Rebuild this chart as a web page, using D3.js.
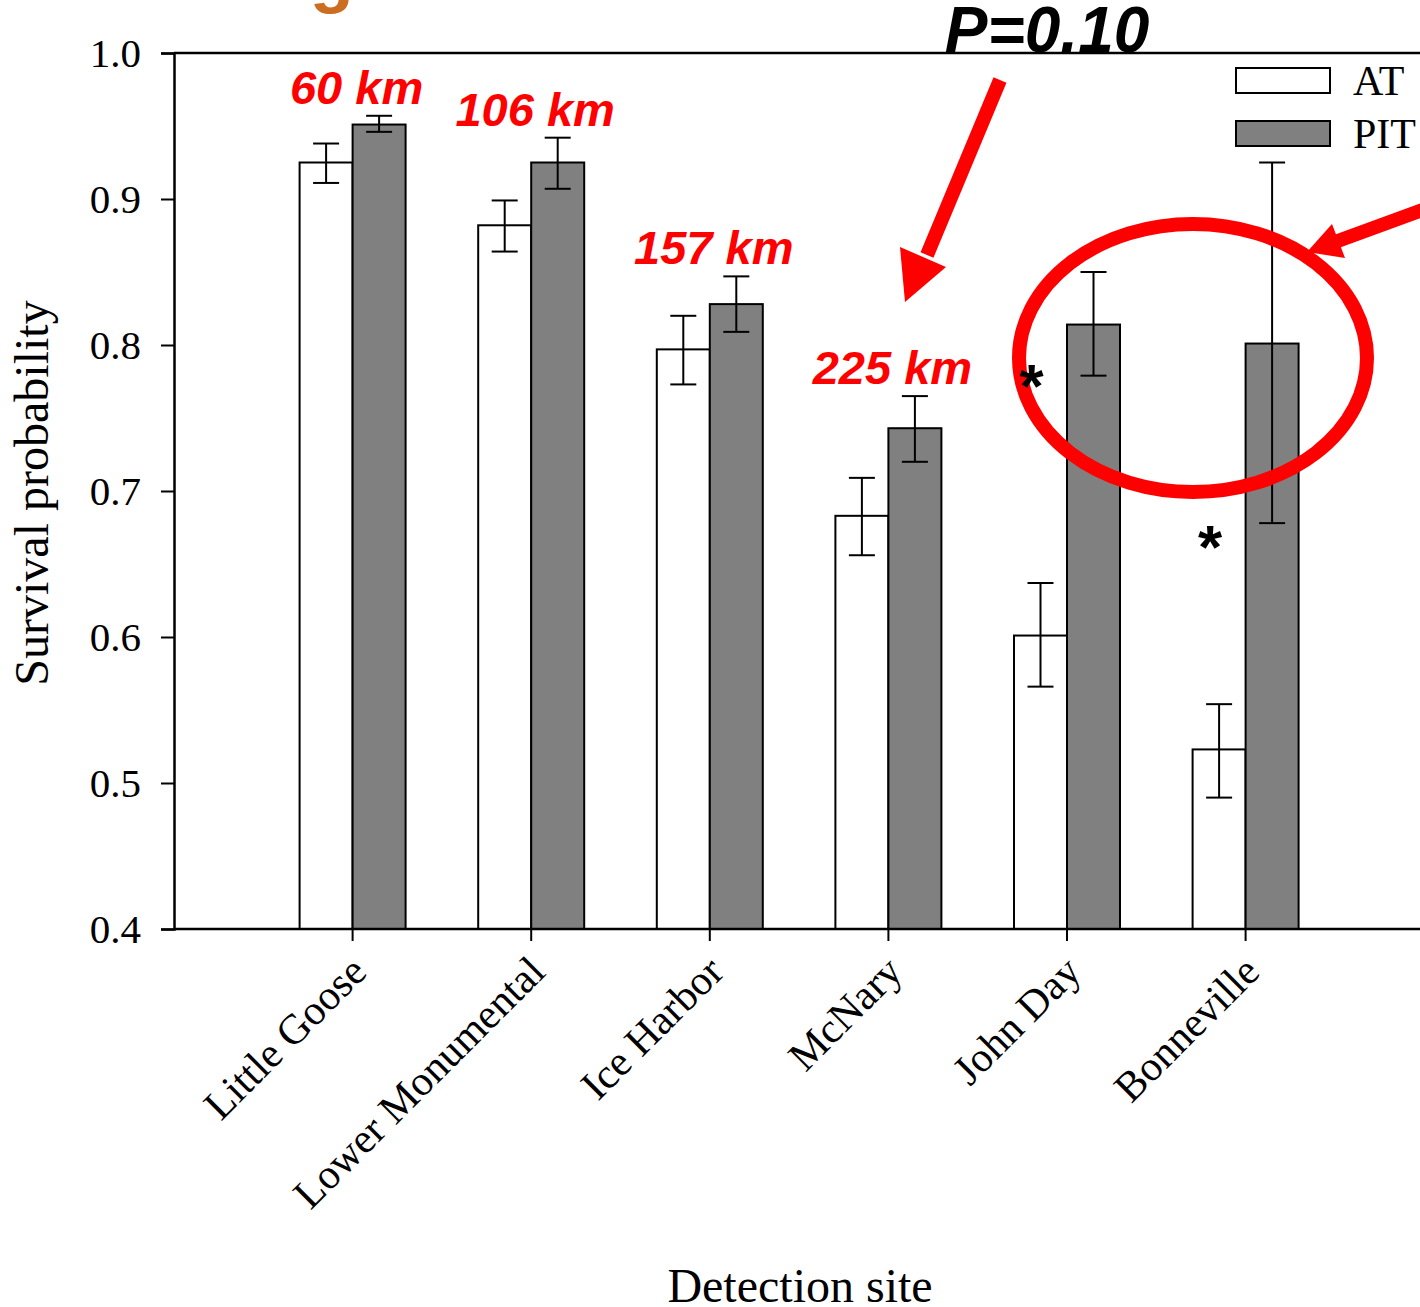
<!DOCTYPE html>
<html>
<head>
<meta charset="utf-8">
<script src="https://cdn.jsdelivr.net/npm/d3@7"></script>
<style>
  html, body { margin: 0; padding: 0; background: #fff; }
  svg { display: block; }
</style>
</head>
<body>
<div id="chart"></div>
<script>
// Survival probability by detection site, AT vs PIT tagged fish
var w = 1420;
var h = 1307;

// data
var sites = ["Little Goose", "Lower Monumental", "Ice Harbor", "McNary", "John Day", "Bonneville"];
var series = ["AT", "PIT"];
var atValues = [0.925, 0.882, 0.797, 0.683, 0.601, 0.523];
var atLower = [0.911, 0.864, 0.773, 0.656, 0.566, 0.490];
var atUpper = [0.938, 0.899, 0.820, 0.709, 0.637, 0.554];
var pitValues = [0.951, 0.925, 0.828, 0.743, 0.814, 0.801];
var pitLower = [0.946, 0.907, 0.809, 0.720, 0.779, 0.678];
var pitUpper = [0.957, 0.942, 0.847, 0.765, 0.850, 0.925];
var yTicks = [0.4, 0.5, 0.6, 0.7, 0.8, 0.9, 1.0];
var kmSites = ["Little Goose", "Lower Monumental", "Ice Harbor", "McNary"];
var kmLabels = ["60 km", "106 km", "157 km", "225 km"];
var starSites = ["John Day", "Bonneville"];

// plot box (note: "top" is taken by window.top, so use other names)
var plotLeft = 174, plotTop = 53, plotBottom = 929, plotRight = 1420;

var svg = d3.select("#chart").append("svg")
    .attr("width", w)
    .attr("height", h)
    .style("background", "#fff");

// y scale
var yScale = d3.scaleLinear()
    .domain([0.4, 1.0])
    .range([plotBottom, plotTop]);

// x scale: the first slot is left empty, like the original
var step = 178.6;
var xScale = d3.scaleBand()
    .domain(sites)
    .range([plotLeft + step / 2, plotLeft + step * 6.5])
    .paddingInner(0);

var barW = 53;
var xSub = d3.scaleBand()
    .domain(series)
    .range([0, barW * 2]);

function center(s) { return xScale(s) + xScale.bandwidth() / 2; }

// cut-off slide title at the very top
svg.append("text")
    .attr("x", 231)
    .attr("y", -1)
    .attr("fill", "#cc6e22")
    .style("font-family", "'Liberation Sans', Arial, sans-serif")
    .style("font-weight", "bold")
    .style("font-size", "72px")
    .text("Tag effects on survival");

// rows of bar data
var flat = [];
sites.forEach(function(s, i) {
    flat.push({ site: s, key: "AT", v: atValues[i], lo: atLower[i], hi: atUpper[i] });
    flat.push({ site: s, key: "PIT", v: pitValues[i], lo: pitLower[i], hi: pitUpper[i] });
});

// bars
svg.append("g").selectAll("rect")
    .data(flat)
    .enter()
    .append("rect")
    .attr("x", function(d) { return center(d.site) - barW + xSub(d.key); })
    .attr("y", function(d) { return yScale(d.v); })
    .attr("width", xSub.bandwidth())
    .attr("height", function(d) { return plotBottom - yScale(d.v); })
    .attr("fill", function(d) { return d.key === "AT" ? "#ffffff" : "#808080"; })
    .attr("stroke", "#000")
    .attr("stroke-width", 2);

// error bars
var eb = svg.append("g")
    .attr("stroke", "#000")
    .attr("stroke-width", 2);
var cap = 13;
flat.forEach(function(d) {
    var cx = center(d.site) - barW + xSub(d.key) + xSub.bandwidth() / 2;
    eb.append("line").attr("x1", cx).attr("x2", cx)
        .attr("y1", yScale(d.lo)).attr("y2", yScale(d.hi));
    eb.append("line").attr("x1", cx - cap).attr("x2", cx + cap)
        .attr("y1", yScale(d.lo)).attr("y2", yScale(d.lo));
    eb.append("line").attr("x1", cx - cap).attr("x2", cx + cap)
        .attr("y1", yScale(d.hi)).attr("y2", yScale(d.hi));
});

// y axis
var yAxis = d3.axisLeft(yScale)
    .tickValues(yTicks)
    .tickFormat(d3.format(".1f"))
    .tickSizeOuter(0)
    .tickSize(13)
    .tickPadding(20);

var gy = svg.append("g")
    .attr("transform", "translate(" + plotLeft + ",0)")
    .call(yAxis);
gy.select(".domain").attr("stroke-width", 2.5);
gy.selectAll(".tick line").attr("stroke-width", 2);
gy.selectAll(".tick text")
    .style("font-family", "'Liberation Serif', 'Times New Roman', serif")
    .style("font-size", "41px")
    .attr("fill", "#000");

// frame line on top
svg.append("line")
    .attr("x1", plotLeft).attr("x2", plotRight)
    .attr("y1", plotTop).attr("y2", plotTop)
    .attr("stroke", "#000").attr("stroke-width", 2.5);

// x axis
var xAxis = d3.axisBottom(xScale)
    .tickSize(12)
    .tickSizeOuter(0)
    .tickFormat("");
var gx = svg.append("g")
    .attr("transform", "translate(0," + plotBottom + ")")
    .call(xAxis);
gx.select(".domain").remove();
gx.selectAll(".tick line").attr("stroke-width", 2);
svg.append("line")
    .attr("x1", plotLeft).attr("x2", plotRight)
    .attr("y1", plotBottom).attr("y2", plotBottom)
    .attr("stroke", "#000").attr("stroke-width", 2.5);

// rotated site labels
svg.append("g").selectAll("text")
    .data(sites)
    .enter()
    .append("text")
    .attr("transform", function(d) {
        return "translate(" + (center(d) + 16) + "," + (plotBottom + 45) + ") rotate(-45)";
    })
    .attr("text-anchor", "end")
    .style("font-family", "'Liberation Serif', 'Times New Roman', serif")
    .style("font-size", "42px")
    .attr("fill", "#000")
    .text(function(d) { return d; });

// axis titles
svg.append("text")
    .attr("transform", "translate(48," + ((plotTop + plotBottom) / 2 + 2) + ") rotate(-90)")
    .attr("text-anchor", "middle")
    .style("font-family", "'Liberation Serif', 'Times New Roman', serif")
    .style("font-size", "48px")
    .text("Survival probability");

svg.append("text")
    .attr("x", 800)
    .attr("y", 1302)
    .attr("text-anchor", "middle")
    .style("font-family", "'Liberation Serif', 'Times New Roman', serif")
    .style("font-size", "48px")
    .text("Detection site");

// legend
var legend = svg.append("g");
series.forEach(function(s, i) {
    var ly = 68 + i * 53;
    legend.append("rect")
        .attr("x", 1236).attr("y", ly)
        .attr("width", 94).attr("height", 25)
        .attr("fill", s === "AT" ? "#ffffff" : "#808080")
        .attr("stroke", "#000").attr("stroke-width", 2);
    legend.append("text")
        .attr("x", 1353).attr("y", ly + 27)
        .style("font-family", "'Liberation Serif', 'Times New Roman', serif")
        .style("font-size", "42px")
        .text(s);
});

// red distance labels above the bars
svg.append("g").selectAll("text")
    .data(kmSites)
    .enter()
    .append("text")
    .attr("x", function(d) { return center(d) + 4; })
    .attr("y", function(d) {
        var i = sites.indexOf(d);
        return yScale(Math.max(atUpper[i], pitUpper[i])) - 12;
    })
    .attr("text-anchor", "middle")
    .attr("fill", "#ff0000")
    .style("font-family", "'Liberation Sans', Arial, sans-serif")
    .style("font-weight", "bold")
    .style("font-style", "italic")
    .style("font-size", "47px")
    .text(function(d, i) { return kmLabels[i]; });

// P value annotation
svg.append("text")
    .attr("x", 1047)
    .attr("y", 52)
    .attr("text-anchor", "middle")
    .style("font-family", "'Liberation Sans', Arial, sans-serif")
    .style("font-weight", "bold")
    .style("font-style", "italic")
    .style("font-size", "64px")
    .text("P=0.10");

// red arrows and ellipse
var red = "#ff0000";
svg.append("line")
    .attr("x1", 1000).attr("y1", 80)
    .attr("x2", 927).attr("y2", 255)
    .attr("stroke", red).attr("stroke-width", 14);
svg.append("path")
    .attr("d", "M905,302 L900,247 L946,267 Z")
    .attr("fill", red);

svg.append("line")
    .attr("x1", 1425).attr("y1", 209)
    .attr("x2", 1335).attr("y2", 242)
    .attr("stroke", red).attr("stroke-width", 14);
svg.append("path")
    .attr("d", "M1307,252 L1332,224 L1345,258 Z")
    .attr("fill", red);

svg.append("ellipse")
    .attr("cx", 1193).attr("cy", 358)
    .attr("rx", 174).attr("ry", 134)
    .attr("fill", "none")
    .attr("stroke", red).attr("stroke-width", 14);

// significance stars (drawn over the ellipse)
svg.append("g").selectAll("text")
    .data(starSites)
    .enter()
    .append("text")
    .attr("x", function(d) { return center(d) - barW / 2 - 9; })
    .attr("y", function(d, i) {
        var k = sites.indexOf(d);
        return yScale(pitLower[k]) + (i === 0 ? 31 : 45);
    })
    .attr("text-anchor", "middle")
    .style("font-family", "'Liberation Sans', Arial, sans-serif")
    .style("font-weight", "bold")
    .style("font-size", "62px")
    .text("*");
</script>
</body>
</html>
